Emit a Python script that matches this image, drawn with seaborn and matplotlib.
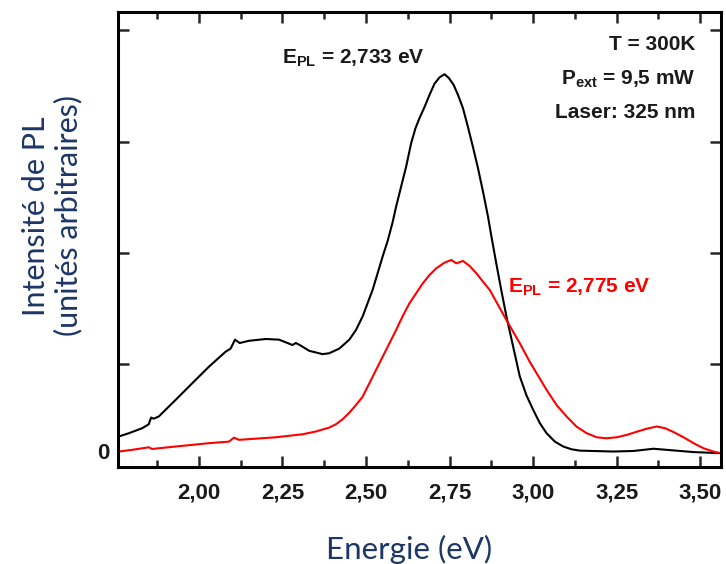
import matplotlib
matplotlib.use("Agg")
import matplotlib.pyplot as plt
import seaborn as sns
import pandas as pd

# ---- data ----
black_E = [1.758, 1.79, 1.83, 1.85, 1.857, 1.865, 1.88, 1.93, 1.98, 2.03, 2.08, 2.095, 2.108,
           2.122, 2.15, 2.20, 2.24, 2.28, 2.29, 2.30, 2.33, 2.37, 2.39, 2.42, 2.45, 2.47, 2.49,
           2.505, 2.52, 2.535, 2.55, 2.565, 2.58, 2.59, 2.605, 2.62, 2.635, 2.648, 2.66, 2.675,
           2.69, 2.705, 2.72, 2.735, 2.748, 2.762, 2.775, 2.79, 2.805, 2.82, 2.835, 2.85, 2.865,
           2.875, 2.89, 2.905, 2.92, 2.94, 2.96, 2.98, 3.00, 3.02, 3.04, 3.065, 3.09, 3.115, 3.14,
           3.24, 3.30, 3.36, 3.42, 3.48, 3.562]
black_I = [0.128, 0.159, 0.204, 0.24, 0.30, 0.29, 0.31, 0.458, 0.608, 0.757, 0.892, 0.92, 1.0,
           0.97, 0.99, 1.006, 1.0, 0.952, 0.97, 0.955, 0.90, 0.87, 0.878, 0.92, 1.0, 1.087, 1.21,
           1.33, 1.45, 1.60, 1.75, 1.89, 2.06, 2.195, 2.375, 2.554, 2.765, 2.90, 2.99, 3.09,
           3.20, 3.30, 3.357, 3.385, 3.35, 3.29, 3.20, 3.08, 2.91, 2.73, 2.54, 2.33, 2.105,
           1.93, 1.68, 1.44, 1.21, 0.94, 0.67, 0.50, 0.37, 0.25, 0.16, 0.084, 0.04, 0.015, 0.003,
           -0.005, 0.0, 0.02, 0.005, -0.01, -0.02]

red_E = [1.758, 1.80, 1.85, 1.86, 1.93, 2.03, 2.09, 2.105, 2.12, 2.23, 2.31, 2.35, 2.39, 2.41,
         2.43, 2.45, 2.47, 2.49, 2.515, 2.54, 2.565, 2.59, 2.61, 2.63, 2.65, 2.67, 2.69, 2.71,
         2.735, 2.755, 2.77, 2.79, 2.81, 2.83, 2.85, 2.87, 2.895, 2.92, 2.94, 2.96, 2.99,
         3.04, 3.07, 3.10, 3.13, 3.16, 3.19, 3.22, 3.25, 3.28, 3.31, 3.34, 3.37, 3.395, 3.42,
         3.45, 3.48, 3.51, 3.54, 3.562]
red_I = [-0.006, 0.01, 0.033, 0.018, 0.04, 0.07, 0.084, 0.12, 0.10, 0.123, 0.15, 0.175, 0.21,
         0.24, 0.285, 0.344, 0.413, 0.488, 0.638, 0.788, 0.937, 1.087, 1.213, 1.327, 1.417,
         1.507, 1.581, 1.641, 1.692, 1.716, 1.686, 1.707, 1.662, 1.597, 1.521, 1.447, 1.312,
         1.177, 1.072, 0.968, 0.80, 0.55, 0.413, 0.31, 0.218, 0.16, 0.123, 0.114, 0.123,
         0.144, 0.173, 0.20, 0.22, 0.204, 0.17, 0.123, 0.07, 0.024, -0.006, -0.02]

x_ticks = [2.00, 2.25, 2.50, 2.75, 3.00, 3.25, 3.50]
x_labels = ["2,00", "2,25", "2,50", "2,75", "3,00", "3,25", "3,50"]

df = pd.concat([
    pd.DataFrame({"E": black_E, "I": black_I, "s": "a"}),
    pd.DataFrame({"E": red_E, "I": red_I, "s": "b"}),
])

sns.set_style("white")
plt.rcParams["font.family"] = ["Liberation Sans", "DejaVu Sans"]
plt.rcParams["mathtext.fontset"] = "custom"
plt.rcParams["mathtext.bf"] = "Liberation Sans:bold"
plt.rcParams["mathtext.rm"] = "Liberation Sans"

fig = plt.figure(figsize=(7.26, 5.64), dpi=100)
ax = fig.add_axes([118 / 726, 1 - 467 / 564, (721 - 118) / 726, (467 - 12) / 564])

sns.lineplot(data=df, x="E", y="I", hue="s", palette={"a": "black", "b": "#ff0000"},
             estimator=None, sort=False, linewidth=1.5, legend=False, ax=ax)

ax.set_xlim(1.758, 3.562)
ax.set_ylim(-0.144, 3.944)
ax.set_xlabel("")
ax.set_ylabel("")

ax.set_xticks(x_ticks)
ax.set_xticklabels(x_labels)
ax.set_xticks([1.875, 2.125, 2.375, 2.625, 2.875, 3.125, 3.375], minor=True)
ax.set_yticks([0])
ax.set_yticklabels(["0"])
ax.set_yticks([0.78, 1.78, 2.78, 3.78], minor=True)

for sp in ax.spines.values():
    sp.set_linewidth(2.2)
    sp.set_color("black")

ax.tick_params(axis="x", which="major", direction="in", length=8, width=1.8,
               top=True, bottom=True, labelsize=16, pad=11, labelcolor="#1a1a1a")
ax.tick_params(axis="x", which="minor", direction="in", length=5, width=1.8,
               top=True, bottom=True)
ax.tick_params(axis="y", which="major", length=0, labelsize=16, pad=6, left=True, right=False,
               labelcolor="#1a1a1a")
ax.tick_params(axis="y", which="minor", direction="in", length=8, width=1.8,
               left=True, right=True)
for lab in ax.get_xticklabels() + ax.get_yticklabels():
    lab.set_fontweight("bold")

tkw = dict(fontsize=15, fontweight="bold")
ax.text(2.249, 3.53, r"$\mathbf{E_{PL}}$ = 2,733 eV", ha="left", va="center", color="#1a1a1a", **tkw)
ax.text(3.485, 3.65, "T = 300K", ha="right", va="center", color="#1a1a1a", **tkw)
ax.text(3.485, 3.34, r"$\mathbf{P_{ext}}$ = 9,5 mW", ha="right", va="center", color="#1a1a1a", **tkw)
ax.text(3.485, 3.04, "Laser: 325 nm", ha="right", va="center", color="#1a1a1a", **tkw)
ax.text(2.924, 1.47, r"$\mathbf{E_{PL}}$ = 2,775 eV", ha="left", va="center", color="#ff0000", **tkw)

fig.text(409 / 726, 1 - 549 / 564, "Energie (eV)", ha="center", va="center",
         fontsize=22.5, family=["Lato", "DejaVu Sans"], color="#1c3766")
fig.text(52 / 726, 1 - 216 / 564, "Intensité de PL\n(unités arbitraires)", ha="center",
         va="center", rotation=90, fontsize=22, family=["Lato", "DejaVu Sans"],
         color="#1c3766", linespacing=1.15)

fig.savefig("out.png", dpi=100)
